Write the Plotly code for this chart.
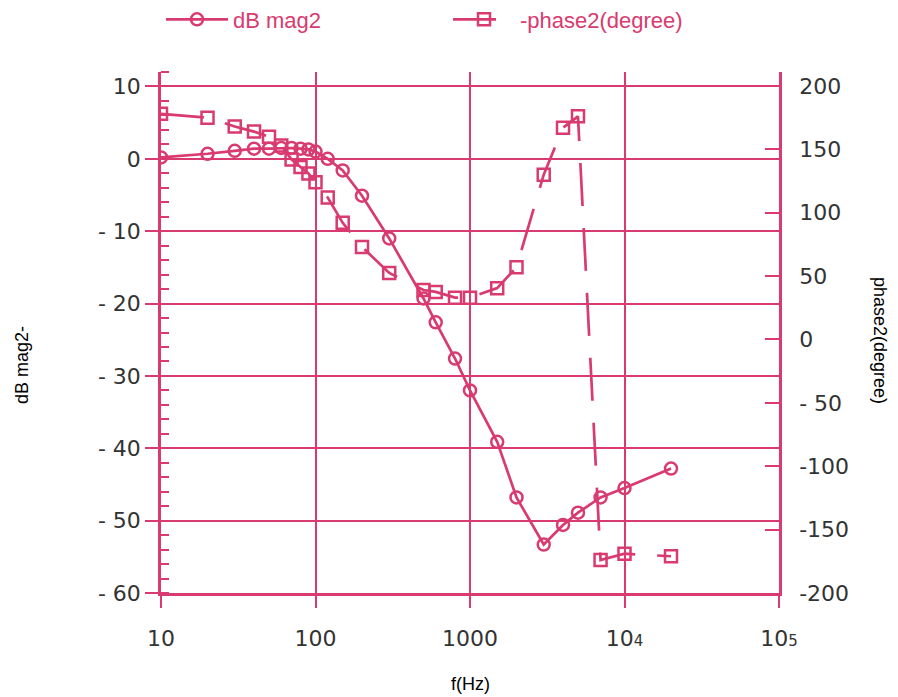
import plotly.graph_objects as go

# ---- data ----
freq_hz = [10, 20, 30, 40, 50, 60, 70, 80, 90, 100, 120, 150, 200, 300, 500, 600,
           800, 1000, 1500, 2000, 3000, 4000, 5000, 7000, 10000, 20000]
mag_db = [0.2, 0.7, 1.1, 1.4, 1.4, 1.5, 1.5, 1.4, 1.3, 1.0, 0.0, -1.6, -5.1, -11.0,
          -19.3, -22.6, -27.6, -32.0, -39.1, -46.8, -53.3, -50.6, -48.9, -46.8, -45.5, -42.8]
phase_deg = [178, 175, 168, 164, 160, 153, 142, 136, 131, 124, 112, 92, 73, 52.5,
             39, 37.5, 33, 33, 40.5, 57, 130, 167, 176, -174, -169, -171]

x_tickvals = [10, 100, 1000, 10000, 100000]
x_ticktext = ["10", "100", "1000",
              "10<span style='font-size:15px'>4</span>",
              "10<span style='font-size:15px'>5</span>"]
y_tickvals = [10, 0, -10, -20, -30, -40, -50, -60]
y_ticktext = ["10", "0", "- 10", "- 20", "- 30", "- 40", "- 50", "- 60"]
y2_tickvals = [200, 150, 100, 50, 0, -50, -100, -150, -200]
y2_ticktext = ["200", "150", "100", "50", "0", "- 50", "-100", "-150", "-200"]

PINK = "#d93a6f"
TXT = "#333333"
TICKFONT = dict(family="DejaVu Sans", size=22, color=TXT)
TITLEFONT = dict(family="Liberation Sans", size=18, color="black")

fig = go.Figure()
fig.add_trace(go.Scatter(
    x=freq_hz, y=mag_db, name="dB mag2", mode="lines+markers",
    line=dict(color=PINK, width=2.7),
    marker=dict(symbol="circle-open", size=12, color=PINK, line=dict(width=2.5, color=PINK)),
    yaxis="y"))
fig.add_trace(go.Scatter(
    x=freq_hz, y=phase_deg, name="-phase2(degree)", mode="lines+markers",
    line=dict(color=PINK, width=2.7, dash="43px,22px"),
    marker=dict(symbol="square-open", size=12, color=PINK, line=dict(width=2.5, color=PINK)),
    yaxis="y2"))

fig.update_layout(
    width=890, height=689,
    margin=dict(l=153, r=119, t=64, b=104, autoexpand=False),
    paper_bgcolor="white", plot_bgcolor="white",
    showlegend=True,
    legend=dict(orientation="h", x=0.0, xanchor="left", y=1.141, yanchor="top",
                font=dict(family="Liberation Sans", size=22, color=PINK),
                entrywidth=210, entrywidthmode="pixels", itemwidth=62,
                borderwidth=0, bgcolor="rgba(0,0,0,0)"),
    xaxis=dict(type="log", range=[1, 5], tickvals=x_tickvals, ticktext=x_ticktext,
               ticks="outside", ticklen=12, tickwidth=2, tickcolor=PINK,
               showgrid=True, gridcolor=PINK, gridwidth=2, automargin=False,
               showline=True, linecolor=PINK, linewidth=2.5, zeroline=False,
               tickfont=TICKFONT, ticklabelstandoff=12),
    yaxis=dict(range=[-60, 12], tickvals=y_tickvals, ticktext=y_ticktext,
               ticks="outside", ticklen=13, tickwidth=2, tickcolor=PINK,
               minor=dict(dtick=2, ticks="inside", ticklen=8, tickwidth=2,
                          tickcolor=PINK, showgrid=False),
               showgrid=True, gridcolor=PINK, gridwidth=2, automargin=False,
               showline=True, linecolor=PINK, linewidth=2.5, zeroline=False,
               tickfont=TICKFONT),
    yaxis2=dict(range=[-200, 211], tickvals=y2_tickvals, ticktext=y2_ticktext,
                overlaying="y", side="right", automargin=False,
                ticks="inside", ticklen=14, tickwidth=2, tickcolor=PINK,
                showgrid=False, showline=True, linecolor=PINK, linewidth=2.5,
                zeroline=False, tickfont=TICKFONT, ticklabelstandoff=13),
    annotations=[
        dict(text="dB mag2-", xref="paper", yref="paper", x=-0.2249, y=0.4376,
             xanchor="center", yanchor="middle",
             textangle=-90, showarrow=False, font=TITLEFONT),
        dict(text="phase2(degree)", xref="paper", yref="paper", x=1.1634, y=0.4837,
             xanchor="center", yanchor="middle",
             textangle=90, showarrow=False, font=TITLEFONT),
        dict(text="f(Hz)", xref="paper", yref="paper", x=0.5, y=-0.1747,
             xanchor="center", yanchor="middle",
             showarrow=False, font=TITLEFONT),
    ],
)

fig.write_html("out.html")
